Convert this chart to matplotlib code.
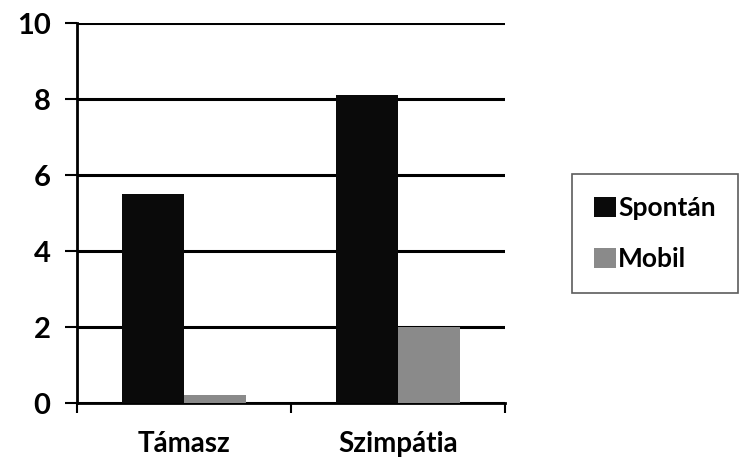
import numpy as np
import matplotlib.pyplot as plt
from matplotlib.patches import Patch

categories = ["Támasz", "Szimpátia"]
series_names = ["Spontán", "Mobil"]
spontan = [5.5, 8.1]
mobil = [0.2, 2.0]

plt.rcParams['font.family'] = ['Lato', 'DejaVu Sans']
plt.rcParams['font.weight'] = 'bold'

fig = plt.figure(figsize=(7.43, 4.63), dpi=100)
ax = fig.add_axes([77/743, 1-403/463, (505-77)/743, (403-23)/463])

x = np.arange(len(categories))
w = 0.29
ax.bar(x - w/2, spontan, w, color="#0a0a0a", zorder=3)
ax.bar(x + w/2, mobil, w, color="#8a8a8a", zorder=3)

ax.set_ylim(0, 10)
ax.set_xlim(-0.5, len(categories) - 0.5)
ax.set_yticks([0, 2, 4, 6, 8, 10])
ax.yaxis.grid(True, color="black", linewidth=2.2, zorder=0)
ax.set_axisbelow(True)

# category labels centred, ticks between categories
ax.set_xticks(x)
ax.set_xticklabels(categories, fontsize=20, fontweight='bold')
ax.tick_params(axis='x', length=0, pad=20)
ax.set_xticks([-0.5, 0.5, 1.5], minor=True)
ax.tick_params(axis='x', which='minor', length=7, width=1.5, direction='out')
ax.tick_params(axis='y', labelsize=21, length=9, width=1.5, pad=10)
for lbl in ax.get_yticklabels():
    lbl.set_fontweight('bold')

for s in ["top", "right"]:
    ax.spines[s].set_visible(False)
ax.spines["left"].set_linewidth(2)
ax.spines["bottom"].set_linewidth(2)

handles = [Patch(facecolor="#0a0a0a"), Patch(facecolor="#8a8a8a")]
leg = fig.legend(handles, series_names, loc="upper left",
                 bbox_to_anchor=(572/743, 1-174/463), frameon=True,
                 fancybox=False, edgecolor="#333333", fontsize=19,
                 handlelength=0.8, handleheight=0.8, handletextpad=0.1,
                 labelspacing=1.0, borderpad=0.85, borderaxespad=0)
leg.get_frame().set_linewidth(1.2)
for t in leg.get_texts():
    t.set_fontweight('bold')

fig.savefig("out.png", dpi=100)
